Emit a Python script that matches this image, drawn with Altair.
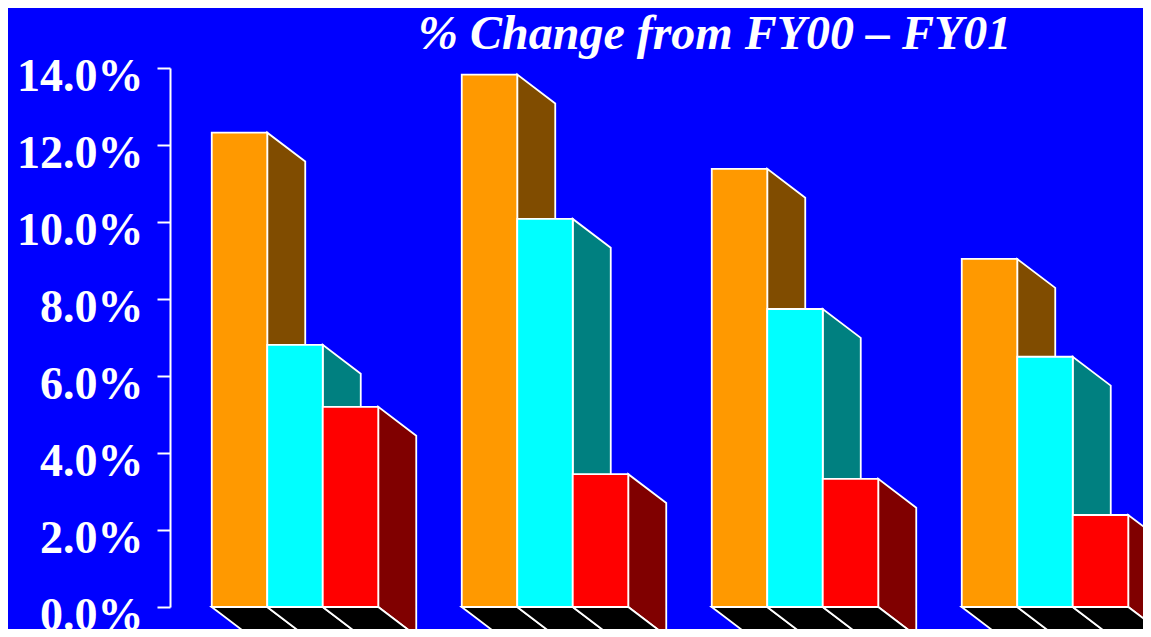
import altair as alt
import pandas as pd

# ---- data ----
groups = ["Group 1", "Group 2", "Group 3", "Group 4"]
series = ["Series A", "Series B", "Series C"]
values = {
    "Series A": [12.32, 13.83, 11.38, 9.04],
    "Series B": [6.81, 10.08, 7.74, 6.50],
    "Series C": [5.20, 3.45, 3.33, 2.39],
}
front_colors = ["#FF9900", "#00FFFF", "#FF0000"]
side_colors = ["#804C00", "#008080", "#800000"]
y_ticks = [0, 2, 4, 6, 8, 10, 12, 14]

# ---- layout constants for pseudo-3D ----
BAR_W = 0.222     # bar width in group units
DEPTH_X = 0.152   # depth offset in x (group units)
DEPTH_Y = 0.75    # depth offset in y (percent units)

front_rows, side_rows, floor_rows = [], [], []
for gi, g in enumerate(groups):
    center = gi + 0.5
    for si, s in enumerate(series):
        v = values[s][gi]
        x0 = center - 1.5 * BAR_W + si * BAR_W
        x1 = x0 + BAR_W
        fid = f"{g}-{s}"
        front_rows.append(dict(group=g, series=s, x0=x0, x1=x1, v=v))
        side_rows.append(dict(face=fid, series=s, x=x1, lo=0.0, hi=v))
        side_rows.append(dict(face=fid, series=s, x=x1 + DEPTH_X, lo=-DEPTH_Y, hi=v - DEPTH_Y))
        floor_rows.append(dict(face=fid, y=0.0, xl=x0, xr=x1))
        floor_rows.append(dict(face=fid, y=-DEPTH_Y, xl=x0 + DEPTH_X, xr=x1 + DEPTH_X))

front_df = pd.DataFrame(front_rows)
side_df = pd.DataFrame(side_rows)
floor_df = pd.DataFrame(floor_rows)

W, H = 973, 539
xscale = alt.Scale(domain=[0, W / 250.0], nice=False, zero=False)
yscale = alt.Scale(domain=[0, 14], nice=False, zero=False)
yaxis = alt.Axis(
    values=y_ticks,
    labelExpr="format(datum.value, '.1f') + '%'",
    grid=False,
    title=None,
)

sides = alt.Chart(side_df).mark_area(
    stroke="white", strokeWidth=1.8, opacity=1, interpolate="linear"
).encode(
    x=alt.X("x:Q", scale=xscale, axis=None),
    y=alt.Y("lo:Q", scale=yscale, axis=yaxis),
    y2="hi:Q",
    color=alt.Color("series:N", scale=alt.Scale(domain=series, range=side_colors), legend=None),
    detail="face:N",
)

floor = alt.Chart(floor_df).mark_area(
    orient="horizontal", color="black", stroke="white", strokeWidth=1.8, interpolate="linear"
).encode(
    y=alt.Y("y:Q", scale=yscale, axis=yaxis),
    x=alt.X("xl:Q", scale=xscale, axis=None),
    x2="xr:Q",
    detail="face:N",
)

fronts = alt.Chart(front_df).mark_rect(stroke="white", strokeWidth=1.8).encode(
    x=alt.X("x0:Q", scale=xscale, axis=None),
    x2="x1:Q",
    y=alt.Y("v:Q", scale=yscale, axis=yaxis),
    y2=alt.datum(0),
    fill=alt.Fill("series:N", scale=alt.Scale(domain=series, range=front_colors), legend=None),
)

chart = alt.layer(sides, floor, fronts).resolve_scale(color="independent").properties(
    width=W,
    height=H,
    title=alt.TitleParams(
        "% Change from FY00 \u2013 FY01",
        font="Liberation Serif",
        fontSize=48,
        fontStyle="italic",
        fontWeight="bold",
        color="white",
        anchor="start",
        frame="group",
        dx=248,
        offset=-6,
    ),
    autosize=alt.AutoSizeParams(type="none"),
    padding={"left": 162, "top": 60, "right": 0, "bottom": 22},
    background="#0000FF",
).configure_view(stroke=None).configure_axisY(
    domainColor="white",
    domainWidth=2,
    tickColor="white",
    tickWidth=2,
    tickSize=13,
    labelColor="white",
    labelFont="Liberation Serif",
    labelFontSize=46,
    labelFontWeight="bold",
    labelPadding=14,
    labelOffset=8,
    labelOverlap=False,
    labelBound=False,
    labelFlush=False,
)

chart.save("out.html", embed_options={"renderer": "svg", "actions": False})
